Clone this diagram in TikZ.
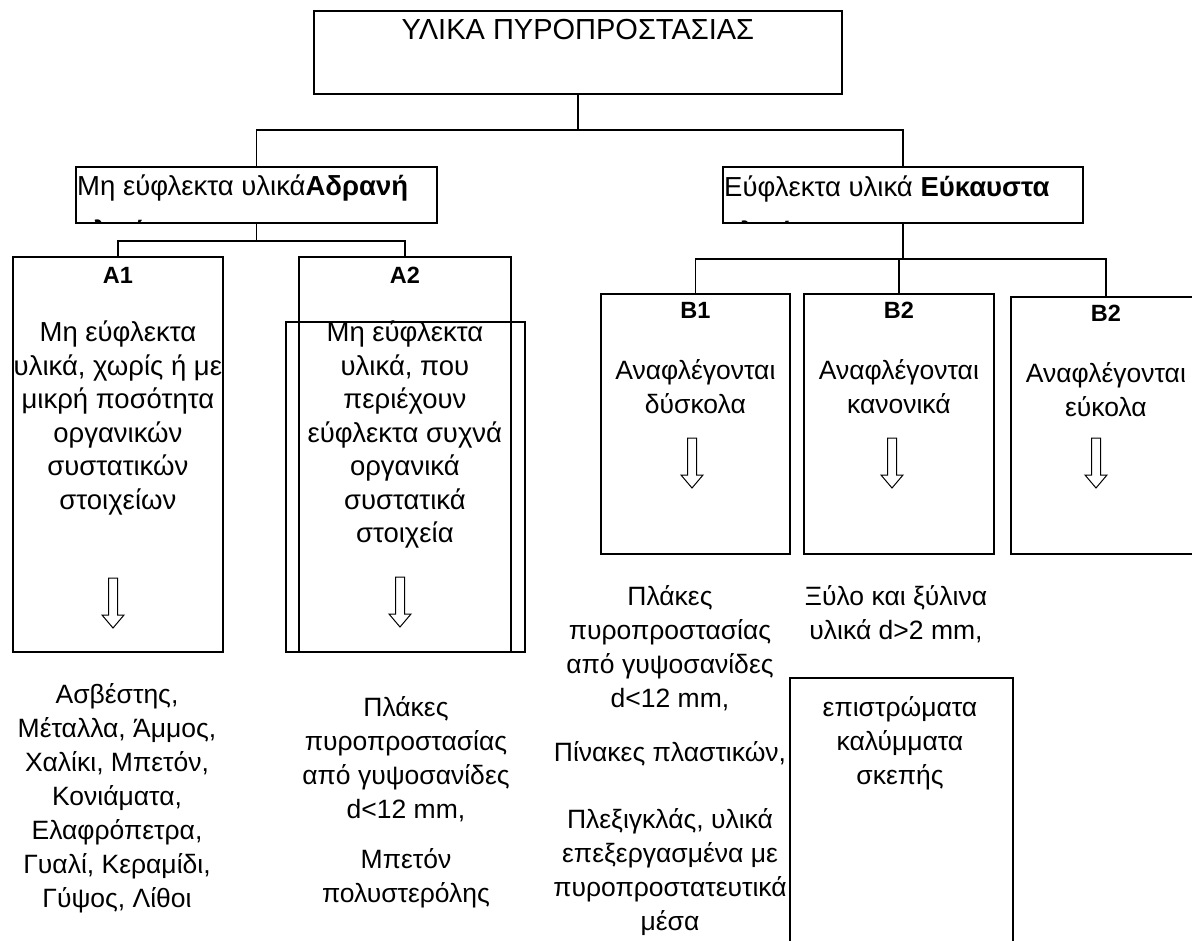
\documentclass[tikz,border=0pt]{standalone}
\usepackage{fontspec}
\setmainfont{Liberation Sans}
\usetikzlibrary{positioning}

\begin{document}
\begin{tikzpicture}[x=1pt,y=-1pt,
  box/.style={draw,line width=1.8pt,inner sep=0pt,anchor=north west},
  link/.style={line width=1.5pt},
  tag/.style={inner sep=0pt,font=\fontsize{23.5}{28}\selectfont\bfseries},
  head/.style={inner sep=0pt,font=\fontsize{29}{34}\selectfont},
  txt/.style={inner sep=0pt,align=center,font=\fontsize{27.5}{33.5}\selectfont},
  lst/.style={inner sep=0pt,align=center,font=\fontsize{26.5}{34}\selectfont},
  downarrow/.pic={\draw[line width=1pt] (-4.5,0) -- (-4.5,37) -- (-11,37) -- (0,50)
    -- (11,37) -- (4.5,37) -- (4.5,0) -- cycle;}]
\path[use as bounding box,clip] (0,0) rectangle (1192,941);

% boxes
\node[box,minimum width=528pt,minimum height=83pt]  (root)  at (313,10)  {};
\node[box,minimum width=361pt,minimum height=56pt]  (inert) at (75,166)  {};
\node[box,minimum width=360pt,minimum height=56pt]  (flam)  at (722,166) {};
\node[box,minimum width=210pt,minimum height=395pt] (A1)    at (12,256)  {};
\node[box,minimum width=212pt,minimum height=395pt] (A2)    at (298,256) {};
\node[box,minimum width=239pt,minimum height=330pt] (A2b)   at (285,321) {};
\node[box,minimum width=189pt,minimum height=260pt] (B1)    at (600,293) {};
\node[box,minimum width=190pt,minimum height=260pt] (B2)    at (803,293) {};
\node[box,minimum width=190pt,minimum height=257pt] (B3)    at (1010,296) {};
\node[box,minimum width=223pt,minimum height=290pt] (roof)  at (789,677) {};

% tree
\draw[link] (root.south) -- ++(0,35) -| (inert.north);
\draw[link] (root.south) -- ++(0,35) -| (flam.north);
\draw[link] (inert.south) -- ++(0,17) -| (A1.north);
\draw[link] (inert.south) -- ++(0,17) -| (A2.north);
\draw[link] (flam.south) -- ++(0,35) -| (B1.north);
\draw[link] (flam.south) -- ++(0,35) -| (B2.north);
\draw[link] (flam.south) -- ++(0,35) -| (B3.north);

% texts in boxes
\node[head] (rootT) [below=9pt of root.north] {ΥΛΙΚΑ ΠΥΡΟΠΡΟΣΤΑΣΙΑΣ};
\node[txt,anchor=base west] (inertT) at (77,196) {Μη εύφλεκτα υλικά\textbf{Αδρανή}};
\node[txt,anchor=base west] (flamT)  at (724,197) {Εύφλεκτα υλικά \textbf{Εύκαυστα}};
\begin{scope}
  \clip (inert.north west) rectangle (inert.south east);
  \node[txt,anchor=base west] (inertT2) at (77,241) {\textbf{υλικά}};
\end{scope}
\begin{scope}
  \clip (flam.north west) rectangle (flam.south east);
  \node[txt,anchor=base west] (flamT2) at (724,242) {\textbf{υλικά}};
\end{scope}

\node[tag] (A1T) [below=11pt of A1.north] {A1};
\node[txt] (A1X) [below=65pt of A1.north] {Μη εύφλεκτα\\υλικά, χωρίς ή με\\μικρή ποσότητα\\οργανικών\\συστατικών\\στοιχείων};
\node[tag] (A2T) [below=11pt of A2.north] {A2};
\node[txt] (A2X) [below=65pt of A2.north] {Μη εύφλεκτα\\υλικά, που\\περιέχουν\\εύφλεκτα συχνά\\οργανικά\\συστατικά\\στοιχεία};
\pic at (113,578) {downarrow};
\pic at (400,577) {downarrow};

\node[tag] (B1T) [below=9pt of B1.north] {B1};
\node[lst] (B1X) [below=66pt of B1.north] {Αναφλέγονται\\δύσκολα};
\node[tag] (B2T) [below=9pt of B2.north] {B2};
\node[lst] (B2X) [below=66pt of B2.north] {Αναφλέγονται\\κανονικά};
\node[tag] (B3T) [below=9pt of B3.north] {B2};
\node[lst] (B3X) [below=66pt of B3.north] {Αναφλέγονται\\εύκολα};
\pic at (692,438) {downarrow};
\pic at (892,438) {downarrow};
\pic at (1096,438) {downarrow};

% lists under the boxes
\node[lst,anchor=north] (A1L) at (117,683) {Ασβέστης,\\Μέταλλα, Άμμος,\\Χαλίκι, Μπετόν,\\Κονιάματα,\\Ελαφρόπετρα,\\Γυαλί, Κεραμίδι,\\Γύψος, Λίθοι};
\node[lst,anchor=north] (A2L) at (406,696) {Πλάκες\\πυροπροστασίας\\από γυψοσανίδες\\d<12 mm,\\[16pt]Μπετόν\\πολυστερόλης};
\node[lst,anchor=north] (B1L) at (670,585) {Πλάκες\\πυροπροστασίας\\από γυψοσανίδες\\d<12 mm,\\[20pt]Πίνακες πλαστικών,\\[33pt]Πλεξιγκλάς, υλικά\\επεξεργασμένα με\\πυροπροστατευτικά\\μέσα};
\node[lst,anchor=north] (B2L) at (896,585) {Ξύλο και ξύλινα\\υλικά d>2 mm,};
\node[lst,anchor=north] (roofT) at (900,696) {επιστρώματα\\καλύμματα\\σκεπής};
\end{tikzpicture}
\end{document}
